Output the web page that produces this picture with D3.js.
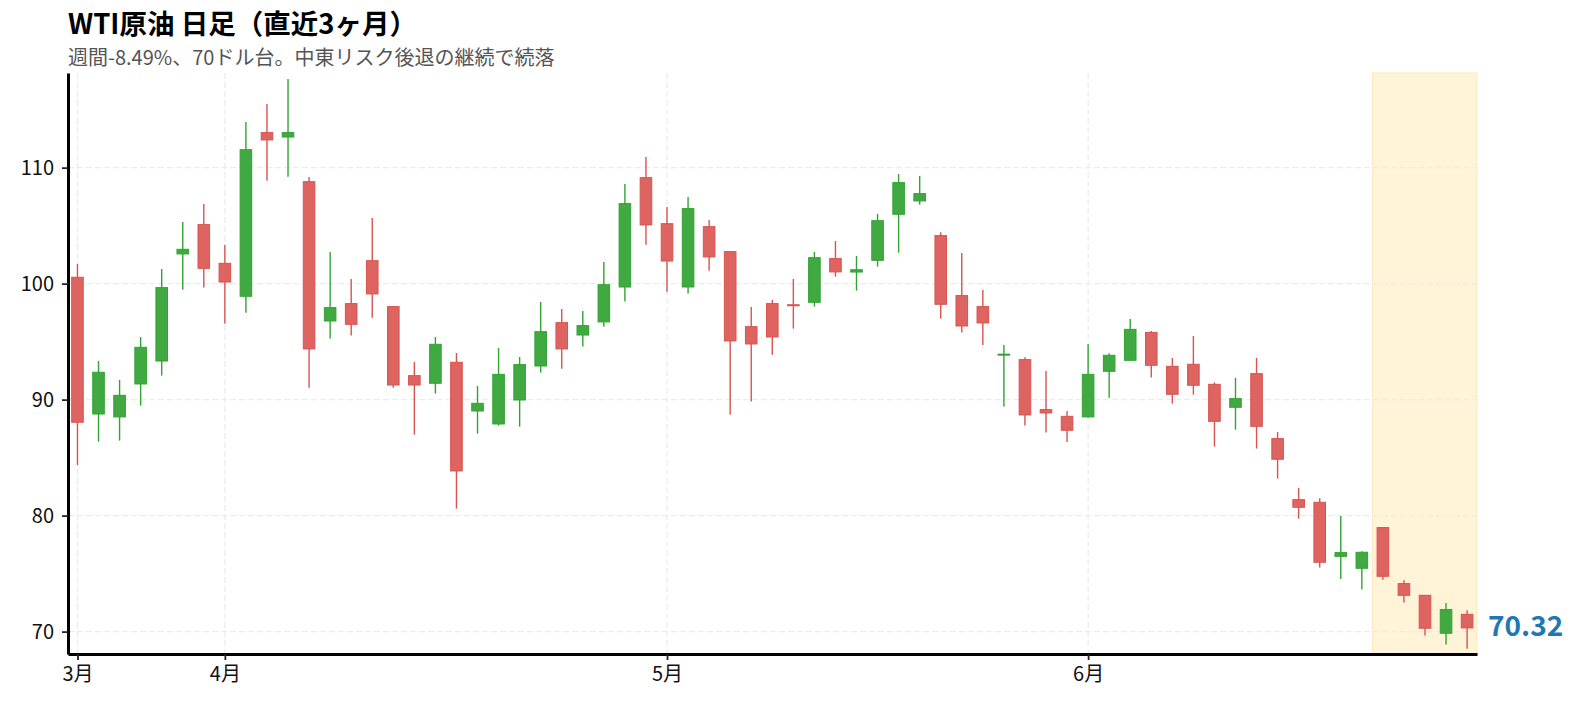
<!DOCTYPE html>
<html><head><meta charset="utf-8">
<script src="https://cdn.jsdelivr.net/npm/d3@7"></script>
<style>
html,body{margin:0;padding:0;background:#fff;}
text{font-family:"Noto Sans CJK JP","Noto Sans",sans-serif;}
</style></head>
<body><svg id="chart" width="1577" height="703"></svg>
<script>
const opens  = [100.55,88.76,88.51,91.35,93.33,102.56,105.09,101.75,98.91,113.02,112.64,108.79,96.78,98.28,101.98,98.02,92.07,91.41,93.22,89.02,87.90,89.97,92.90,96.64,95.57,96.70,99.71,109.14,105.17,99.71,104.91,102.76,96.29,98.28,98.18,98.39,102.16,101.00,102.01,105.98,107.13,104.14,98.97,98.02,93.85,93.45,89.14,88.56,88.51,92.44,93.39,95.80,92.87,93.05,91.32,89.34,92.24,86.64,81.38,81.15,76.49,75.46,78.97,74.14,73.13,69.86,71.49];
const highs  = [101.70,93.33,91.70,95.40,101.26,105.32,106.87,103.33,113.94,115.49,117.64,109.20,102.73,100.40,105.66,98.05,93.25,95.40,94.02,91.18,94.45,93.68,98.42,97.82,97.64,101.87,108.59,110.92,106.61,107.47,105.49,102.80,97.99,98.59,100.40,102.73,103.68,102.39,106.01,109.45,109.28,104.43,102.64,99.45,94.71,93.65,92.47,89.02,94.80,93.99,96.95,95.92,93.59,95.49,91.49,91.87,93.59,87.21,82.39,81.49,79.97,76.93,79.00,74.43,73.15,72.47,71.84];
const lows   = [84.37,86.38,86.47,89.48,92.07,99.48,99.66,96.55,97.50,108.88,109.22,91.03,95.26,95.52,97.07,91.03,86.98,90.52,80.60,87.07,87.76,87.67,92.33,92.67,94.57,96.29,98.45,103.36,99.31,99.14,101.12,88.71,89.83,93.88,96.12,98.02,100.60,99.40,101.47,102.67,106.81,96.98,95.78,94.71,89.40,87.76,87.16,86.35,88.45,90.17,93.35,91.90,89.66,90.43,85.95,87.41,85.78,83.19,79.74,75.52,74.54,73.62,74.48,72.50,69.66,68.88,68.53];
const closes = [88.05,92.36,90.37,94.51,99.66,102.96,101.32,100.14,111.55,112.39,113.02,94.37,97.93,96.49,99.11,91.26,91.26,94.77,83.85,89.68,92.18,93.02,95.86,94.37,96.38,99.91,106.90,105.06,101.95,106.47,102.30,95.06,94.80,95.40,98.10,102.24,101.01,101.20,105.43,108.71,107.76,98.22,96.35,96.61,93.92,88.68,88.85,87.36,92.18,93.82,96.06,92.96,90.46,91.24,88.13,90.09,87.70,84.86,80.72,75.98,76.81,76.84,74.77,73.13,70.29,71.90,70.32];
const monthTickIdx = [0,7,28,48];
const monthLabels = ["3月","4月","5月","6月"];
const yTicks = [70,80,90,100,110];
const highlightStart = 61.5;
const lastLabel = "70.32";
const titleText = "WTI原油 日足（直近3ヶ月）";
const subtitleText = "週間-8.49%、70ドル台。中東リスク後退の継続で続落";

(function () {
const svg = d3.select("#chart");
const n = closes.length;
const pL = 68, pR = 1477, pT = 73, pB = 654;
const x = d3.scaleLinear().domain([-0.45, n - 1 + 0.47]).range([pL, pR]);
const y = d3.scaleLinear().domain([68.07, 118.16]).range([pB, pT]);
const step = x(1) - x(0);

// highlight band
svg.append("rect")
  .attr("x", x(highlightStart)).attr("y", pT)
  .attr("width", pR - x(highlightStart)).attr("height", pB - pT)
  .attr("fill", "#fff3d8").attr("stroke", "#fde9b8").attr("stroke-width", 1);

// grid
const grid = svg.append("g");
grid.selectAll("line.h").data(yTicks).join("line")
  .attr("x1", pL).attr("x2", pR)
  .attr("y1", d => y(d)).attr("y2", d => y(d))
  .attr("stroke", "#ececec").attr("stroke-width", 1.3).attr("stroke-dasharray", "6,3");
grid.selectAll("line.v").data(monthTickIdx).join("line")
  .attr("x1", d => x(d)).attr("x2", d => x(d))
  .attr("y1", pT).attr("y2", pB)
  .attr("stroke", "#ececec").attr("stroke-width", 1.3).attr("stroke-dasharray", "6,3");

// candles
const idx = d3.range(n);
const col = i => closes[i] >= opens[i] ? {fill:"#41a941", stroke:"#32a332"} : {fill:"#dd6461", stroke:"#d9534f"};
const cg = svg.append("g");
cg.selectAll("line.wick").data(idx).join("line")
  .attr("x1", i => x(i)).attr("x2", i => x(i))
  .attr("y1", i => y(highs[i])).attr("y2", i => y(lows[i]))
  .attr("stroke", i => col(i).stroke).attr("stroke-width", 1.4);
const bw = step * 0.55;
cg.selectAll("rect.body").data(idx).join("rect")
  .attr("x", i => x(i) - bw / 2)
  .attr("y", i => y(Math.max(opens[i], closes[i])))
  .attr("width", bw)
  .attr("height", i => Math.max(1, Math.abs(y(opens[i]) - y(closes[i]))))
  .attr("fill", i => col(i).fill).attr("stroke", i => col(i).stroke).attr("stroke-width", 1);

// axes
const yAxis = svg.append("g").attr("transform", `translate(${pL},0)`)
  .call(d3.axisLeft(y).tickValues(yTicks).tickSize(6).tickPadding(8).tickSizeOuter(0));
const xAxis = svg.append("g").attr("transform", `translate(0,${pB})`)
  .call(d3.axisBottom(x).tickValues(monthTickIdx).tickFormat((d, i) => monthLabels[i]).tickSize(6).tickPadding(7).tickSizeOuter(0));
[yAxis, xAxis].forEach(a => {
  a.select(".domain").attr("stroke", "#000").attr("stroke-width", 3);
  a.selectAll(".tick line").attr("stroke", "#222").attr("stroke-width", 1.8);
  a.selectAll(".tick text").attr("fill", "#111").style("font-size", "20px")
    .style("font-family", '"Noto Sans CJK JP", sans-serif');
});

// last value label
svg.append("text").attr("x", pR + 11).attr("y", y(closes[n - 1]))
  .attr("dominant-baseline", "middle")
  .attr("fill", "#1f77b4").attr("font-weight", "bold").style("font-size", "28px")
  .text(lastLabel);

// titles
svg.append("text").attr("x", 68).attr("y", 33.5)
  .attr("font-weight", "bold").style("font-size", "27.5px").attr("fill", "#000").text(titleText);
svg.append("text").attr("x", 68).attr("y", 64.5)
  .style("font-size", "20px").attr("fill", "#555").text(subtitleText);
})();
</script></body></html>
